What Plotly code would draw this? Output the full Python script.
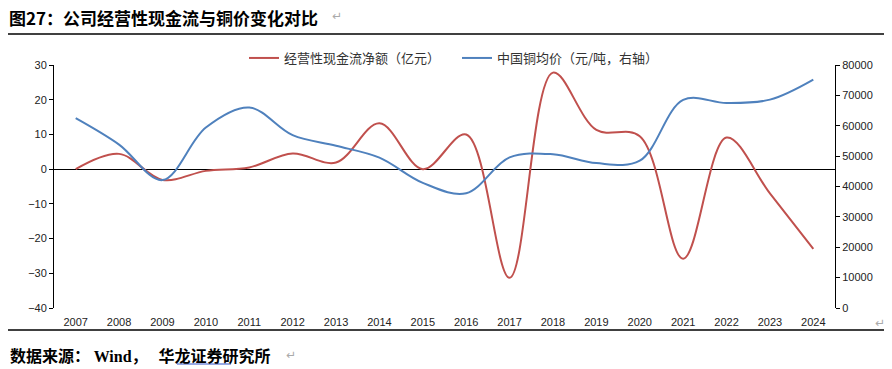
import plotly.graph_objects as go

years = list(range(2007, 2025))
cash_flow = [0, 4.4, -3.1, -0.5, 0.5, 4.5, 1.9, 13.2, 0, 10, -31.3, 27.8, 11.3, 9.5, -25.8, 9.1, -7, -23]
copper = [62500, 53800, 42100, 59400, 66000, 56900, 53400, 49500, 41200, 37800, 49600, 50600, 47700, 48500, 68500, 67500, 68600, 75200]

name_cf = "经营性现金流净额（亿元）"
name_cu = "中国铜均价（元/吨，右轴）"
title_text = "图27：公司经营性现金流与铜价变化对比"
source_text = ("数据来源：&nbsp;<span style='font-family:Liberation Serif'>Wind</span>"
               "，&nbsp;&nbsp;&nbsp;华龙证券研究所")

O = 8  # page body margin
W, H = 892 - O, 369 - O
# plot area in page pixels
L, R, T, B = 54, 835, 65, 308

def px(x):
    return (x - L) / (R - L)

def py(y):
    return (B - y) / (B - T)

RED = "#C0504D"
BLUE = "#4F81BD"
CJK = "Noto Sans CJK SC"
NUM = "Liberation Sans"

fig = go.Figure()
fig.add_trace(go.Scatter(x=years, y=cash_flow, name=name_cf, mode="lines",
                         line=dict(color=RED, width=2, shape="spline", smoothing=1.0)))
fig.add_trace(go.Scatter(x=years, y=copper, name=name_cu, mode="lines", yaxis="y2",
                         line=dict(color=BLUE, width=2, shape="spline", smoothing=1.0)))

fig.update_layout(
    width=W, height=H,
    margin=dict(l=L - O, r=W - (R - O), t=T - O, b=H - (B - O), pad=0, autoexpand=False),
    paper_bgcolor="white", plot_bgcolor="white",
    showlegend=True,
    legend=dict(orientation="h", xref="paper", yref="paper",
                x=px(244), y=py(43), xanchor="left", yanchor="top",
                font=dict(family=CJK, size=13, color="#333333"),
                entrywidth=168, entrywidthmode="pixels",
                bgcolor="rgba(0,0,0,0)", itemwidth=30),
    xaxis=dict(range=[2006.5, 2024.5], tickmode="array", tickvals=years,
               ticktext=[str(y) for y in years], showline=False, ticks="",
               showgrid=False, zeroline=False, ticklabelstandoff=6,
               tickfont=dict(family=NUM, size=11, color="#222222")),
    xaxis2=dict(range=[2006.5, 2024.5], overlaying="x", anchor="free",
                position=40 / 70, side="bottom", tickmode="array",
                tickvals=[y + 0.5 for y in years[:-1]], ticks="outside",
                ticklen=4, tickcolor="black", showticklabels=False,
                showline=False, showgrid=False, zeroline=False),
    yaxis=dict(range=[-40, 30], dtick=10, showline=True, linecolor="black",
               linewidth=1, ticks="outside", ticklen=4, tickcolor="black",
               showgrid=False, zeroline=True, zerolinecolor="black",
               zerolinewidth=1.2,
               tickfont=dict(family=NUM, size=11, color="#222222")),
    yaxis2=dict(range=[0, 80000], dtick=10000, overlaying="y", side="right",
                showline=True, linecolor="black", linewidth=1, ticks="outside",
                ticklen=4, tickcolor="black", showgrid=False, zeroline=False,
                tickformat="d",
                tickfont=dict(family=NUM, size=11, color="#222222")),
)

# title & source text
fig.add_annotation(text="<b>" + title_text + "</b>", xref="paper", yref="paper",
                   x=px(8), y=py(17), xanchor="left", yanchor="middle",
                   showarrow=False, borderpad=0,
                   font=dict(family=CJK, size=17, color="black"))
fig.add_annotation(text="↵", xref="paper", yref="paper",
                   x=px(330), y=py(16), xanchor="left", yanchor="middle",
                   showarrow=False, font=dict(family="DejaVu Sans", size=12, color="#aaaaaa"))
fig.add_annotation(text="<b>" + source_text + "</b>", xref="paper", yref="paper",
                   x=px(8), y=py(355), xanchor="left", yanchor="middle",
                   showarrow=False, font=dict(family=CJK, size=16, color="black"))
fig.add_annotation(text="↵", xref="paper", yref="paper",
                   x=px(284), y=py(355), xanchor="left", yanchor="middle",
                   showarrow=False, font=dict(family="DejaVu Sans", size=12, color="#aaaaaa"))
fig.add_annotation(text="↵", xref="paper", yref="paper",
                   x=px(873), y=py(323), xanchor="left", yanchor="middle",
                   showarrow=False, font=dict(family="DejaVu Sans", size=12, color="#aaaaaa"))

# rules
fig.add_shape(type="line", xref="paper", yref="paper", x0=px(8), x1=px(887),
              y0=py(34), y1=py(34), line=dict(color="black", width=1.5))
fig.add_shape(type="line", xref="paper", yref="paper", x0=px(8), x1=px(887),
              y0=py(330), y1=py(330), line=dict(color="black", width=1.5))
fig.add_shape(type="line", xref="paper", yref="paper", x0=px(177), x1=px(231),
              y0=py(364), y1=py(364), line=dict(color="#3355cc", width=1))

fig.write_html("out.html")
